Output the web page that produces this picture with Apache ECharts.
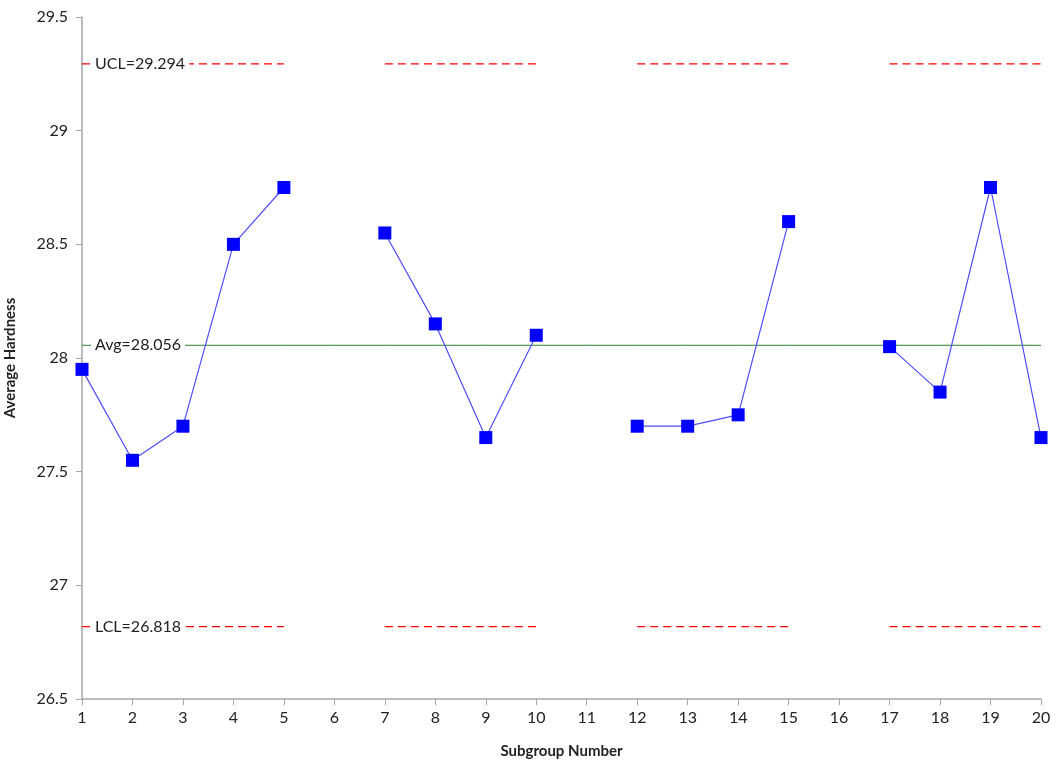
<!DOCTYPE html>
<html><head><meta charset="utf-8">
<script src="https://cdn.jsdelivr.net/npm/echarts@6/dist/echarts.min.js"></script>
<style>html,body{margin:0;padding:0;background:#fff}#c{width:1056px;height:768px}</style>
</head><body><div id="c"></div>
<script>
const categories = ['1','2','3','4','5','6','7','8','9','10','11','12','13','14','15','16','17','18','19','20'];
const hardness = [27.95,27.55,27.7,28.5,28.75,null,28.55,28.15,27.65,28.1,null,27.7,27.7,27.75,28.6,null,28.05,27.85,28.75,27.65];
const ucl = 29.294, lcl = 26.818, avg = 28.056;
const gapMask = [1,1,1,1,1,0,1,1,1,1,0,1,1,1,1,0,1,1,1,1];
const uclData = gapMask.map(m => m ? ucl : null);
const lclData = gapMask.map(m => m ? lcl : null);
const avgData = categories.map(() => avg);
const yTicks = [26.5, 27, 27.5, 28, 28.5, 29, 29.5];

const font = 'Lato, "Open Sans", sans-serif';
const labelStyle = (text) => ({
  show: true, position: 'right', distance: 8,
  formatter: text,
  backgroundColor: '#ffffff', padding: [2, 4, 2, 4],
  color: '#222', fontSize: 16, fontFamily: font
});
const withFirstLabel = (data, text) => data.map((v, i) =>
  i === 0 ? {value: v, label: labelStyle(text)} : v);
const refLine = (data, lineStyle, text) => ({
  type: 'line', data: withFirstLabel(data, text), symbol: 'circle', symbolSize: 2, showSymbol: true, silent: true,
  itemStyle: {color: 'rgba(0,0,0,0)', borderWidth: 0},
  lineStyle: lineStyle,
  label: {show: false}, labelLayout: {hideOverlap: false}, z: 2
});
const chart = echarts.init(document.getElementById('c'));
chart.setOption({
  animation: false,
  grid: {left: 82, right: 15, top: 17, bottom: 69, containLabel: false, outerBoundsMode: 'none'},
  xAxis: {
    type: 'category', data: categories, boundaryGap: false,
    name: 'Subgroup Number', nameLocation: 'middle', nameGap: 45,
    nameTextStyle: {fontWeight: 'bold', fontSize: 15, color: '#222', fontFamily: font},
    axisLine: {lineStyle: {color: '#a6a6a6', width: 1.5}},
    axisTick: {alignWithLabel: true, length: 6, lineStyle: {color: '#a6a6a6'}},
    axisLabel: {color: '#222', fontSize: 16, fontFamily: font, margin: 11, interval: 0},
    splitLine: {show: false}
  },
  yAxis: {
    type: 'value', min: 26.5, max: 29.5, interval: 0.5,
    name: 'Average Hardness', nameLocation: 'middle', nameGap: 64, nameRotate: 90,
    nameTextStyle: {fontWeight: 'bold', fontSize: 15, color: '#222', fontFamily: font},
    axisLine: {show: true, lineStyle: {color: '#a6a6a6', width: 1.5}},
    axisTick: {show: true, length: 6, lineStyle: {color: '#a6a6a6'}},
    axisLabel: {color: '#222', fontSize: 16, fontFamily: font, margin: 14,
      formatter: v => yTicks.includes(v) ? String(v) : ''},
    splitLine: {show: false}
  },
  series: [
    refLine(uclData, {color: '#ff0000', width: 1.3, type: [8, 5]}, 'UCL=29.294'),
    refLine(lclData, {color: '#ff0000', width: 1.3, type: [8, 5]}, 'LCL=26.818'),
    refLine(avgData, {color: '#2e7d2e', width: 1}, 'Avg=28.056'),
    {type: 'line', data: hardness, symbol: 'rect', symbolSize: 13, showSymbol: true,
      connectNulls: false,
      itemStyle: {color: '#0000ff'},
      lineStyle: {color: '#4d4dff', width: 1.2}, z: 3}
  ]
});
</script></body></html>
